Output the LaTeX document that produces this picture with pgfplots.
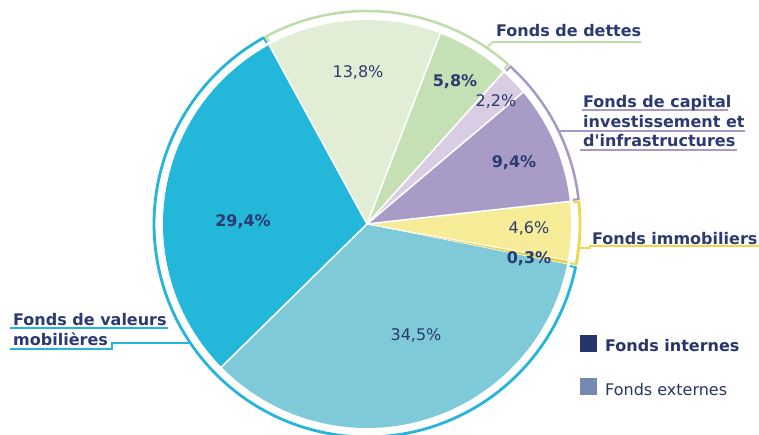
\documentclass[border=0pt]{standalone}
\usepackage{pgfplots}
\pgfplotsset{compat=1.18}
\usepackage{fontspec}
\setmainfont{DejaVu Sans}
\definecolor{cH}{HTML}{23B7DA}
\definecolor{cG}{HTML}{7ECAD9}
\definecolor{cF}{HTML}{F0D048}
\definecolor{cE}{HTML}{F6EC98}
\definecolor{cD}{HTML}{A89BC6}
\definecolor{cC}{HTML}{D8CDE2}
\definecolor{cB}{HTML}{C5E0B5}
\definecolor{cA}{HTML}{E1EDD5}
\definecolor{rblue}{HTML}{23B5DA}
\definecolor{ryellow}{HTML}{F2D548}
\definecolor{rpurple}{HTML}{A898C6}
\definecolor{rgreen}{HTML}{BCDDAA}
\definecolor{navy}{HTML}{2B3A70}
\definecolor{intern}{HTML}{26366B}
\definecolor{extern}{HTML}{7488B0}
% data (percent), clockwise from the top
\def\pA{13.8}\def\pB{5.8}\def\pC{2.2}\def\pD{9.4}
\def\pE{4.6}\def\pF{0.3}\def\pG{34.5}\def\pH{29.4}
\edef\bA{118.66}
\edef\bB{\fpeval{\bA-3.6*\pA}}
\edef\bC{\fpeval{\bB-3.6*\pB}}
\edef\bD{\fpeval{\bC-3.6*\pC}}
\edef\bE{\fpeval{\bD-3.6*\pD}}
\edef\bF{\fpeval{\bE-3.6*\pE}}
\edef\bG{\fpeval{\bF-3.6*\pF}}
\edef\bH{\fpeval{\bG-3.6*\pG}}
\edef\bI{\fpeval{\bH-3.6*\pH}}
\newcommand\slice[3]{\addplot[fill=#3, draw=none, domain=#2:#1, samples=90, variable=\t] ({204*cos(\t)},{204*sin(\t)}) -- (axis cs:0,0) -- cycle;}
\newcommand\lbl{\fontsize{16}{19}\selectfont}
\begin{document}
\begin{tikzpicture}
\begin{axis}[width=759pt, height=435pt, scale only axis,
  xmin=-367, xmax=392, ymin=-211, ymax=224, hide axis, clip=false]
\slice{\bA}{\bB}{cA}
\slice{\bB}{\bC}{cB}
\slice{\bC}{\bD}{cC}
\slice{\bD}{\bE}{cD}
\slice{\bE}{\bF}{cE}
\slice{\bF}{\bG}{cF}
\slice{\bG}{\bH}{cG}
\slice{\bH}{\bI}{cH}
% white separators
\addplot[white, line width=1.6pt, data cs=polar] coordinates {(0,0) (118.66,206)};
\addplot[white, line width=1.6pt, data cs=polar] coordinates {(0,0) (68.98,206)};
\addplot[white, line width=1.6pt, data cs=polar] coordinates {(0,0) (48.10,206)};
\addplot[white, line width=1.6pt, data cs=polar] coordinates {(0,0) (40.18,206)};
\addplot[white, line width=1.6pt, data cs=polar] coordinates {(0,0) (6.34,206)};
\addplot[white, line width=1.0pt, data cs=polar] coordinates {(0,0) (-10.22,206)};
\addplot[white, line width=0.5pt, data cs=polar] coordinates {(0,0) (-11.30,206)};
\addplot[white, line width=1.6pt, data cs=polar] coordinates {(0,0) (-135.50,206)};
% outer rings
\addplot[rblue, line width=2.8pt, domain=-241.0:-11.7, samples=160, variable=\t] ({213*cos(\t)},{213*sin(\t)});
\addplot[rblue, line width=2pt, data cs=polar] coordinates {(-241.0,214) (-241.0,207)};
\addplot[rblue, line width=2pt, data cs=polar] coordinates {(-11.7,214) (-11.7,207)};
\addplot[ryellow, line width=2.8pt, domain=-10.9:6.0, samples=30, variable=\t] ({213*cos(\t)},{213*sin(\t)});
\addplot[ryellow, line width=2pt, data cs=polar] coordinates {(-10.9,214) (-10.9,207)};
\addplot[ryellow, line width=2pt, data cs=polar] coordinates {(6.0,214) (6.0,207)};
\addplot[rpurple, line width=2.5pt, domain=6.7:47.7, samples=60, variable=\t] ({213*cos(\t)},{213*sin(\t)});
\addplot[rpurple, line width=2pt, data cs=polar] coordinates {(6.7,214) (6.7,207)};
\addplot[rpurple, line width=2pt, data cs=polar] coordinates {(47.7,214) (47.7,207)};
\addplot[rgreen, line width=2.5pt, domain=48.5:118.3, samples=90, variable=\t] ({213*cos(\t)},{213*sin(\t)});
\addplot[rgreen, line width=2pt, data cs=polar] coordinates {(48.5,214) (48.5,207)};
\addplot[rgreen, line width=2pt, data cs=polar] coordinates {(118.3,214) (118.3,207)};
% percent labels
\node[text=navy, font=\lbl\bfseries] at (axis cs:-124,2) {29,4\%};
\node[text=navy, font=\lbl] at (axis cs:-9,151) {13,8\%};
\node[text=navy, font=\lbl\bfseries] at (axis cs:88,142) {5,8\%};
\node[text=navy, font=\lbl] at (axis cs:129,122) {2,2\%};
\node[text=navy, font=\lbl\bfseries] at (axis cs:147,61) {9,4\%};
\node[text=navy, font=\lbl] at (axis cs:162,-4) {4,6\%};
\node[text=navy, font=\lbl\bfseries] at (axis cs:162,-35) {0,3\%};
\node[text=navy, font=\lbl] at (axis cs:49,-111) {34,5\%};
% group labels and leaders
\draw[rgreen, line width=1.6pt] (axis cs:120,177) -- (axis cs:126,182) -- (axis cs:274,182);
\node[anchor=west, inner sep=0pt, text=navy, font=\lbl\bfseries] at (axis cs:129,193) {Fonds de dettes};
\draw[rpurple, line width=1.6pt] (axis cs:191,93) -- (axis cs:378,93);
\draw[rpurple, line width=1.6pt] (axis cs:215,114) -- (axis cs:361,114);
\draw[rpurple, line width=1.6pt] (axis cs:213,74) -- (axis cs:370,74);
\node[anchor=west, inner sep=0pt, text=navy, font=\lbl\bfseries] at (axis cs:216,121) {Fonds de capital};
\node[anchor=west, inner sep=0pt, text=navy, font=\lbl\bfseries] at (axis cs:216,102) {investissement et};
\node[anchor=west, inner sep=0pt, text=navy, font=\lbl\bfseries] at (axis cs:216,83) {d\textquotesingle infrastructures};
\draw[ryellow, line width=1.6pt] (axis cs:212,-24) -- (axis cs:223,-24) -- (axis cs:223,-22) -- (axis cs:392,-22);
\node[anchor=west, inner sep=0pt, text=navy, font=\lbl\bfseries] at (axis cs:225,-15) {Fonds immobiliers};
\draw[rblue, line width=1.6pt] (axis cs:-357,-104) -- (axis cs:-199,-104);
\draw[rblue, line width=1.6pt] (axis cs:-357,-125) -- (axis cs:-255,-125) -- (axis cs:-255,-119) -- (axis cs:-177,-119);
\node[anchor=west, inner sep=0pt, text=navy, font=\lbl\bfseries] at (axis cs:-354,-96) {Fonds de valeurs};
\node[anchor=west, inner sep=0pt, text=navy, font=\lbl\bfseries] at (axis cs:-354,-115) {mobilières};
% legend
\node[fill=intern, minimum size=17pt, inner sep=0pt] at (axis cs:221.5,-119.5) {};
\node[anchor=west, inner sep=0pt, text=intern, font=\lbl\bfseries] at (axis cs:238,-122) {Fonds internes};
\node[fill=extern, minimum size=17pt, inner sep=0pt] at (axis cs:221.5,-162.5) {};
\node[anchor=west, inner sep=0pt, text=intern, font=\lbl] at (axis cs:238,-166) {Fonds externes};
\end{axis}
\pgfresetboundingbox
\path[use as bounding box] (current axis.south west) rectangle (current axis.north east);
\end{tikzpicture}
\end{document}
